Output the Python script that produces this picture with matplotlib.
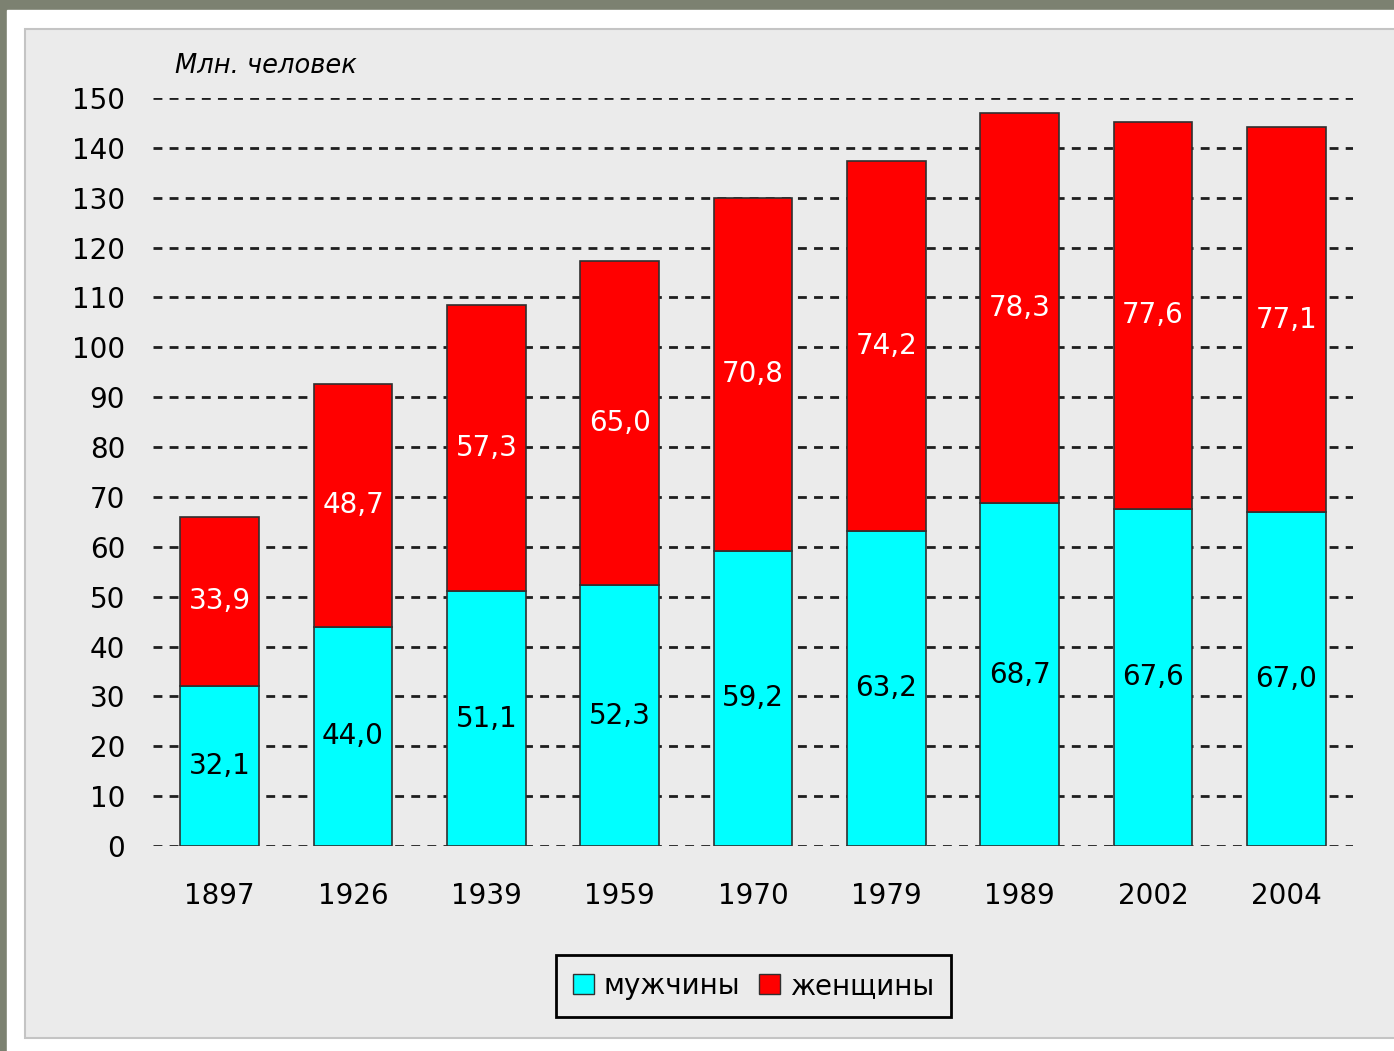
import matplotlib.pyplot as plt
from matplotlib.patches import Rectangle, Patch

years = ['1897', '1926', '1939', '1959', '1970', '1979', '1989', '2002', '2004']
men = [32.1, 44.0, 51.1, 52.3, 59.2, 63.2, 68.7, 67.6, 67.0]
women = [33.9, 48.7, 57.3, 65.0, 70.8, 74.2, 78.3, 77.6, 77.1]
yticks = list(range(0, 151, 10))

plt.rcParams['font.family'] = ['DejaVu Sans']

fig = plt.figure(figsize=(13.94, 10.51), dpi=100, facecolor='#7c8171')
# white frame and gray panel behind the axes
fig.patches.append(Rectangle((7 / 1394, 0), 1, (1051 - 10) / 1051,
                             transform=fig.transFigure, color='white', zorder=-2))
fig.patches.append(Rectangle((25 / 1394, 13 / 1051), 1, (1038 - 29) / 1051,
                             transform=fig.transFigure, facecolor='#ebebeb',
                             edgecolor='#c4c4c4', lw=1.5, zorder=-1))

ax = fig.add_axes([153 / 1394, 205 / 1051, 1200 / 1394, 748 / 1051])
ax.set_facecolor('none')

x = range(len(years))
ax.bar(x, men, width=0.59, color='#00ffff', edgecolor='#303030', lw=1.2, zorder=3)
ax.bar(x, women, width=0.59, bottom=men, color='#ff0000', edgecolor='#303030', lw=1.2, zorder=3)

for i in x:
    ax.text(i, men[i] / 2, f'{men[i]:.1f}'.replace('.', ','), ha='center', va='center',
            fontsize=20, color='black', zorder=4)
    ax.text(i, men[i] + women[i] / 2, f'{women[i]:.1f}'.replace('.', ','), ha='center', va='center',
            fontsize=20, color='white', zorder=4)

ax.set_xlim(-0.5, 8.5)
ax.set_ylim(0, 150)
ax.set_yticks(yticks)
ax.set_xticks(list(x))
ax.set_xticklabels(years)
ax.tick_params(axis='y', length=0, pad=20, labelsize=20)
ax.tick_params(axis='x', length=0, pad=26, labelsize=20)
for s in ax.spines.values():
    s.set_visible(False)
ax.yaxis.grid(True, linestyle=(0, (3.2, 2.6)), color='#1e1e1e', lw=2, zorder=1)
ax.set_axisbelow(True)

fig.text(175 / 1394, (1051 - 66) / 1051, 'Млн. человек', fontsize=18.5, style='italic',
         ha='left', va='center')

handles = [Patch(facecolor='#00ffff', edgecolor='#303030'),
           Patch(facecolor='#ff0000', edgecolor='#303030')]
leg = fig.legend(handles, ['мужчины', 'женщины'], loc='center', ncol=2,
                 bbox_to_anchor=(753.5 / 1394, (1051 - 986) / 1051), fontsize=20,
                 fancybox=False, frameon=True, handlelength=0.75, handleheight=0.75,
                 handletextpad=0.35, columnspacing=0.7, borderpad=0.6, borderaxespad=0)
leg.get_frame().set_edgecolor('black')
leg.get_frame().set_linewidth(2)
leg.get_frame().set_facecolor('#ebebeb')
leg.get_frame().set_alpha(1)

fig.savefig('out.png', dpi=100, facecolor=fig.get_facecolor())
